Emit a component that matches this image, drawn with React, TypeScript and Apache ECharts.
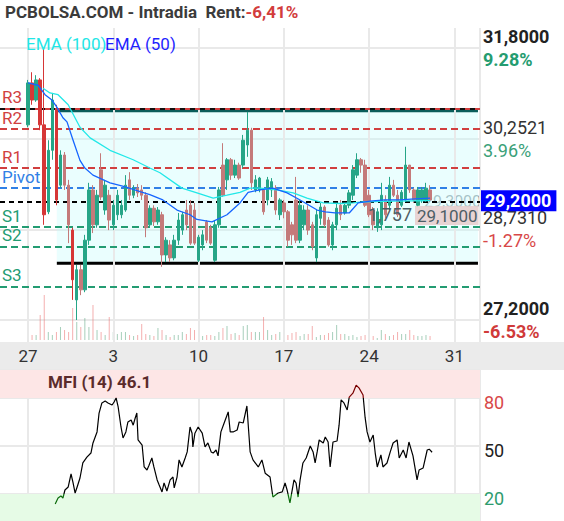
import React, { useEffect, useRef } from 'react';
import * as echarts from 'echarts';

const titleMain = 'PCBOLSA.COM - Intradia  Rent:';
const titleRent = '-6,41%';
const dayLabels = ['27', '3', '10', '17', '24', '31'];
const priceTickLabels = ['27,2000', '28,7310', '30,2521', '31,8000'];
const pctTickLabels = ['-6.53%', '-1.27%', '3.96%', '9.28%'];
const lastPrice = 29.2;
const lastPriceLabel = '29,2000';
const refPriceLabel = '29,1000';
const otherPriceLabel = '29,3000';
const volumeLabel = '1,757';
const mfiTitle = 'MFI (14) 46.1';

const opens = [30.50,31.21,30.92,31.26,30.50,29.03,30.07,30.75,29.48,29.99, 29.48,28.72,27.54,28.05,27.71,28.55,29.40,28.81,29.74,29.06, 29.31,28.81,28.98,28.98,29.06,29.57,29.31,29.43,29.40,29.31, 28.81,29.09,28.86,28.98,28.30,28.47,28.25,28.55,28.72,29.06, 29.14,29.06,28.21,28.47,28.86,28.76,28.21,28.81,29.82,29.57, 29.91,29.65,29.82,29.82,30.16,30.41,29.40,29.40,29.40,29.23, 29.40,29.43,28.98,29.18,29.03,28.81,29.23,28.55,28.81,29.06, 28.81,28.25,28.92,29.11,28.89,28.47,28.81,29.14,29.01,29.14, 29.31,29.65,29.91,29.82,29.31,29.06,28.76,28.81,29.23,29.14, 29.48,29.31,29.14,29.23,29.82,29.40,29.14,29.23,29.23,29.40];
const closes = [31.21,30.92,31.26,30.50,28.98,30.07,30.92,29.23,29.99,29.48, 28.81,27.88,28.05,27.71,28.55,29.40,28.81,29.31,29.28,29.48, 28.89,29.14,29.31,29.14,29.48,29.31,29.43,29.35,29.31,28.76, 29.09,28.86,29.06,28.30,28.55,28.25,28.55,28.89,28.98,28.81, 28.50,28.50,28.60,28.64,28.55,28.50,28.81,29.40,29.31,29.91, 29.65,29.82,29.60,30.24,30.41,29.52,29.57,29.60,29.03,29.57, 29.54,29.06,29.23,29.03,28.55,28.64,28.55,29.14,29.06,28.72, 28.44,28.98,29.11,28.81,28.47,28.81,29.09,28.98,29.14,29.35, 29.74,29.91,29.82,29.14,28.98,28.81,29.03,29.31,28.98,29.48, 29.31,28.98,29.36,29.82,29.40,29.23,29.40,29.40,29.43,29.23];
const lows = [30.46,30.84,30.89,30.41,28.81,28.99,29.91,29.14,29.43,29.40, 28.50,27.54,27.20,27.62,27.67,28.47,28.67,28.76,29.23,28.98, 28.72,28.72,28.89,28.92,29.03,29.23,29.26,29.28,29.23,28.60, 28.76,28.79,28.81,28.10,28.18,28.18,28.21,28.47,28.64,28.72, 28.47,28.47,28.18,28.38,28.50,28.47,28.18,28.76,29.28,29.40, 29.57,29.60,29.57,29.77,29.96,29.40,29.36,29.36,28.98,29.14, 29.28,28.98,28.89,28.92,28.44,28.47,28.50,28.50,28.72,28.64, 28.38,28.18,28.81,28.77,28.44,28.38,28.72,28.89,28.98,29.09, 29.23,29.60,29.69,29.11,28.94,28.72,28.69,28.72,28.92,29.06, 29.28,28.94,29.11,29.20,29.35,29.18,29.11,29.18,29.20,29.20];
const highs = [31.26,31.39,31.34,31.29,31.80,30.24,31.04,30.84,30.07,30.04, 29.57,28.76,28.13,28.13,28.64,29.52,29.48,29.40,30.02,29.57, 29.40,29.23,29.40,29.23,29.65,29.70,29.48,29.50,29.48,29.36, 29.14,29.14,29.11,29.03,28.60,28.55,28.64,29.01,29.03,29.23, 29.23,29.18,28.64,28.72,28.89,28.81,28.89,29.45,30.19,29.94, 29.94,29.91,29.86,30.33,30.72,30.45,29.65,29.62,29.43,29.62, 29.60,29.48,29.26,29.23,29.06,28.86,29.62,29.23,29.14,29.14, 28.86,29.06,29.18,29.14,28.94,28.86,29.18,29.23,29.18,29.40, 29.82,30.02,29.94,29.91,29.40,29.11,29.09,29.52,29.31,29.62, 29.57,29.40,29.40,30.13,29.82,29.43,29.45,29.45,29.52,29.48];
const volumes = [2,5,5,25,45,8,5,8,13,10, 8,32,18,13,22,13,35,10,8,5, 23,8,6,8,8,5,4,5,16,6, 5,4,12,10,5,3,5,5,8,6, 12,10,5,4,5,5,4,8,12,14, 6,7,5,14,15,8,8,8,23,10, 5,6,8,8,5,7,8,4,6,6, 14,3,5,5,7,8,15,6,6,4, 5,3,4,5,3,4,2,10,6,4, 5,8,6,6,10,5,4,4,5,4];
const firstSessionDownBars = [1, 3, 4, 7, 11];

const ema50X = [0, 2.5, 4.2, 5.9, 7.1, 8.6, 9.6, 11.1, 12.8, 14.0, 16.0, 20.2, 24.0, 27.6, 30.0, 33.2, 36.7, 39.9, 41.6, 45.3, 49.0, 52.2, 54.2, 57.1, 60.3, 63.8, 67.0, 71.2, 73.2, 75.6, 79.1, 81.3, 84.2, 87.9, 91.6, 95.3, 99.0];
const ema50Y = [31.21, 31.17, 31.01, 30.92, 30.80, 30.62, 30.55, 30.24, 29.90, 29.77, 29.65, 29.52, 29.45, 29.37, 29.32, 29.23, 29.06, 28.98, 28.90, 28.86, 28.98, 29.18, 29.36, 29.40, 29.43, 29.35, 29.23, 29.06, 29.03, 29.01, 29.01, 29.18, 29.21, 29.23, 29.23, 29.25, 29.26];
const ema100X = [3.7, 5.4, 7.4, 9.9, 12.8, 15.3, 20.2, 25.9, 30.0, 32.5, 37.9, 41.6, 45.6, 49.0, 52.2, 54.7, 57.1, 61.3, 65.3, 68.7, 72.7, 76.8, 80.0, 83.0, 90.0, 99.0];
const ema100Y = [31.12, 31.04, 31.01, 30.84, 30.46, 30.28, 30.07, 29.91, 29.77, 29.69, 29.43, 29.35, 29.26, 29.31, 29.36, 29.43, 29.43, 29.40, 29.35, 29.26, 29.18, 29.17, 29.18, 29.20, 29.21, 29.22];

const mfiX = [6.7,7.4,8.1,8.6,9.1,9.9,10.6,11.1,11.6,12.1,12.8,13.5,14.5,15.5,16.0,17.0,17.5,18.2,19.0,19.7,20.7,21.2,21.7,22.2,22.9,23.4,24.1,24.6,25.4,25.9,26.4,26.8,27.1,28.1,28.6,29.3,29.8,30.5,31.0,31.8,32.3,33.0,33.5,34.2,35.0,35.7,36.0,36.7,37.2,37.9,38.7,39.2,39.9,40.4,40.6,41.1,41.9,42.9,43.6,44.3,45.1,45.6,46.3,46.8,47.5,48.3,49.3,49.8,50.5,51.5,52.0,53.0,53.9,54.7,55.4,56.7,57.6,58.4,59.6,60.3,61.6,62.6,63.3,63.8,64.5,65.5,66.0,66.5,67.0,67.7,68.5,69.5,70.2,70.7,71.2,71.7,72.7,73.2,73.9,74.4,75.1,76.1,76.6,77.1,77.8,78.6,79.1,80.0,80.8,81.5,82.5,83.0,83.5,84.2,85.0,85.5,86.0,86.9,87.4,88.4,89.2,89.9,90.9,91.4,92.4,93.1,93.8,94.8,95.8,96.3,97.3,98.3,98.8,99.5];
const mfiY = [13.8,17.5,18.8,17.5,22.5,24.4,32.5,26.9,20.6,24.4,30,39.4,43,45.6,51.9,58.8,70.6,76.9,78.1,76.9,75.6,77.5,80,74.4,61.9,55,58.8,65,66.3,63,67.5,70.6,53.8,50.6,36.9,35,38,42.5,36.9,28.8,25.6,21.3,26.9,21.9,28.8,30.6,23.8,30.6,41.3,36.9,42.5,46.3,61.9,58,49.4,58,61.9,58,49.4,51.9,46.3,45.6,47.5,43.8,58.8,64.4,71.3,58.8,58.8,60,65,64.4,75,46.3,41.3,36.9,41.3,33,30.6,18.1,20.6,21.3,26.9,22.5,14.4,28.8,26.9,18.1,28.8,39.4,42.5,50,46.3,39.4,46.3,53.8,51.9,55.6,52.5,36.9,52.5,53.1,63,78.8,76.9,72.5,80.6,83,88,86.3,81.9,68,58.8,52.5,56.9,45.6,36.9,44.4,36.9,39.4,46.3,51.9,53.8,42.5,47.5,42.5,52.5,43.8,28.8,35,36.3,47.5,48,46.1];

const levelNames = ['R3', 'R2', 'R1', 'Pivot', 'S1', 'S2', 'S3'];
const levelValues = [30.77, 30.43, 29.77, 29.43, 28.77, 28.44, 27.76];
const boxTop = 30.74;
const boxBottom = 28.16;
const boxStart = 7.1;
const boxEnd = 110.8;

const F = 'Roboto';

export default function App() {
  const ref = useRef<HTMLDivElement>(null);
  useEffect(() => {
    document.body.style.margin = '0';
    const chart = echarts.init(ref.current!, null, { renderer: 'svg' });
    const xMax = 111.3;
    const weekBars = 21;
    const split = { show: true, lineStyle: { color: '#e9e9e9', width: 2 } };

    const levelColor = (n: string) => (n.startsWith('R') ? '#d13f3f' : n === 'Pivot' ? '#3080e6' : '#239c72');
    const levelLines: any[] = [];
    levelNames.forEach((n, k) => {
      const c = levelColor(n);
      levelLines.push({
        name: n,
        yAxis: levelValues[k],
        lineStyle: { color: c, type: k === 0 ? 'solid' : [7, 4], width: 2 },
        label: { show: true, position: 'insideStartTop', formatter: '{b}', color: c, fontSize: 17, fontFamily: F, distance: [2, 3] },
      });
      if (k === 0) {
        levelLines.push({ yAxis: levelValues[k], lineStyle: { color: '#111', type: [5, 5], width: 2 }, label: { show: false } });
      }
    });
    levelLines.push({
      yAxis: lastPrice,
      lineStyle: { color: '#000', type: [5, 4], width: 2 },
      label: {
        show: true, position: 'end', formatter: lastPriceLabel, backgroundColor: '#0000ff', color: '#fff',
        fontSize: 18, fontWeight: 'bold', fontFamily: F, padding: [2, 5, 1, 4], distance: 1, offset: [0, -1],
      },
    });

    const candleData = opens.map((o, i) => {
      const item: any = { value: [i, o, closes[i], lows[i], highs[i]] };
      if (firstSessionDownBars.includes(i)) item.itemStyle = { color0: '#d63636', borderColor0: '#d63636' };
      return item;
    });
    const volData = volumes.map((v, i) => ({
      value: [i, v],
      itemStyle: { color: closes[i] >= opens[i] ? 'rgba(80,160,120,0.5)' : 'rgba(235,110,110,0.55)' },
    }));

    const strong = [true, false, false, true];
    const pctStyle = ['r', 'r', 'g', 'g'];

    const option: any = {
      animation: false,
      backgroundColor: '#fff',
      textStyle: { fontFamily: F },
      title: {
        text: `{a|${titleMain}}{b|${titleRent}}`,
        left: 5, top: 3, padding: 0,
        textStyle: {
          rich: {
            a: { fontSize: 17, fontWeight: 'bold', color: '#3b3b3b', fontFamily: F },
            b: { fontSize: 17, fontWeight: 'bold', color: '#d23c3c', fontFamily: F },
          },
        },
      },
      grid: [
        { left: 0, right: 84, top: 48, bottom: 201 },
        { left: 28, right: 84, top: 48, bottom: 201 },
        { left: 28, right: 84, top: 28, bottom: 179 },
        { left: 28, right: 84, top: 295, bottom: 181 },
        { left: 0, right: 84, top: 370, height: 172, outerBoundsMode: 'none', containLabel: false },
        { left: 28, right: 84, top: 370, height: 172, outerBoundsMode: 'none', containLabel: false },
      ],
      xAxis: [
        { gridIndex: 0, type: 'value', min: 0, max: 1, show: false },
        { gridIndex: 1, type: 'value', min: 0, max: xMax, show: false },
        {
          gridIndex: 2, type: 'value', min: 0, max: xMax, interval: weekBars, z: 5,
          axisLine: { show: false }, axisTick: { show: false }, splitLine: split,
          axisLabel: {
            showMaxLabel: false, color: '#333', fontSize: 17, fontFamily: F, margin: 5,
            formatter: (v: number) => (v % weekBars === 0 ? dayLabels[v / weekBars] ?? '' : ''),
          },
        },
        { gridIndex: 3, type: 'value', min: 0, max: xMax, show: false },
        { gridIndex: 4, type: 'value', min: 0, max: 1, show: false },
        {
          gridIndex: 5, type: 'value', min: 0, max: xMax, interval: weekBars,
          axisLine: { show: false }, axisTick: { show: false }, axisLabel: { show: false }, splitLine: split,
        },
      ],
      yAxis: [
        { gridIndex: 0, type: 'value', min: 27.2, max: 31.8, show: false },
        {
          gridIndex: 0, type: 'value', min: 0, max: 3, interval: 1, position: 'right',
          axisLine: { show: false }, axisTick: { show: false }, splitLine: split,
          axisLabel: {
            margin: 3,
            formatter: (v: number) => {
              const s = strong[v] ? 'b' : 'n';
              return `{p${s}|${priceTickLabels[v]}}\n{${pctStyle[v]}${s}|${pctTickLabels[v]}}`;
            },
            rich: {
              pb: { fontSize: 18, fontWeight: 'bold', color: '#222', lineHeight: 23, fontFamily: F },
              pn: { fontSize: 18, color: '#333', lineHeight: 23, fontFamily: F },
              gb: { fontSize: 18, fontWeight: 'bold', color: '#249c70', lineHeight: 23, fontFamily: F },
              gn: { fontSize: 18, color: '#3aa078', lineHeight: 23, fontFamily: F },
              rb: { fontSize: 18, fontWeight: 'bold', color: '#d03a3a', lineHeight: 23, fontFamily: F },
              rn: { fontSize: 18, color: '#d84848', lineHeight: 23, fontFamily: F },
            },
          },
        },
        { gridIndex: 1, type: 'value', min: 27.2, max: 31.8, show: false },
        { gridIndex: 2, type: 'value', min: 0, max: 1, show: false },
        { gridIndex: 3, type: 'value', min: 0, max: 45, show: false },
        {
          gridIndex: 4, type: 'value', min: -10, max: 97.5, interval: 30, position: 'right',
          axisLine: { show: false }, axisTick: { show: false }, splitLine: split,
          axisLabel: {
            showMaxLabel: false, margin: 4,
            formatter: (v: number) => (v === 80 ? '{r|80}' : v === 50 ? '{k|50}' : v === 20 ? '{g|20}' : ''),
            rich: {
              r: { fontSize: 18, color: '#d84848', fontFamily: F, padding: [9, 0, 0, 0] },
              k: { fontSize: 18, color: '#222', fontFamily: F, padding: [9, 0, 0, 0] },
              g: { fontSize: 18, color: '#2e9c6e', fontFamily: F, padding: [9, 0, 0, 0] },
            },
          },
        },
        { gridIndex: 5, type: 'value', min: -10, max: 97.5, show: false },
      ],
      visualMap: {
        type: 'piecewise', show: false, seriesIndex: 8, dimension: 1,
        pieces: [
          { lt: 20, color: '#0b6b0b' },
          { gte: 20, lte: 80, color: '#000' },
          { gt: 80, color: '#7a0000' },
        ],
      },
      series: [
        {
          type: 'line', xAxisIndex: 0, yAxisIndex: 0, data: [[0, lastPrice], [1, lastPrice]],
          symbol: 'none', lineStyle: { opacity: 0 }, silent: true, z: 3,
          markLine: { symbol: ['none', 'none'], silent: true, data: levelLines },
        },
        {
          type: 'line', xAxisIndex: 1, yAxisIndex: 2, data: [[boxStart, boxTop], [boxEnd, boxTop]],
          symbol: 'none', lineStyle: { color: '#0b5d5a', width: 3 }, silent: true, z: 1,
          markArea: {
            silent: true, itemStyle: { color: 'rgba(190,252,252,0.32)' },
            data: [[{ xAxis: boxStart, yAxis: boxTop }, { xAxis: boxEnd, yAxis: boxBottom }]],
          },
        },
        {
          type: 'line', xAxisIndex: 1, yAxisIndex: 2, data: [[boxStart, boxBottom], [boxEnd, boxBottom]],
          symbol: 'none', lineStyle: { color: '#000', width: 3 }, silent: true, z: 4,
        },
        {
          type: 'candlestick', xAxisIndex: 1, yAxisIndex: 2, data: candleData, barWidth: 3, z: 5,
          encode: { x: 0, y: [1, 2, 3, 4] },
          itemStyle: { color: '#26a587', color0: '#c47a7a', borderColor: '#26a587', borderColor0: '#c47a7a', borderWidth: 1 },
        },
        {
          name: 'EMA (100)', type: 'line', xAxisIndex: 1, yAxisIndex: 2, data: ema100X.map((x, i) => [x, ema100Y[i]]),
          showSymbol: false, symbol: 'none', lineStyle: { color: '#22e8e8', width: 1.3 }, z: 6,
        },
        {
          name: 'EMA (50)', type: 'line', xAxisIndex: 1, yAxisIndex: 2, data: ema50X.map((x, i) => [x, ema50Y[i]]),
          showSymbol: false, symbol: 'none', lineStyle: { color: '#1565ff', width: 1.3 }, z: 6,
        },
        { type: 'bar', xAxisIndex: 3, yAxisIndex: 4, data: volData, barWidth: 1, silent: true },
        {
          type: 'line', xAxisIndex: 4, yAxisIndex: 5, data: [[0, 50], [1, 50]], symbol: 'none',
          lineStyle: { opacity: 0 }, silent: true, z: 1,
          markArea: {
            silent: true,
            data: [
              [{ yAxis: 80, itemStyle: { color: '#fde6e6' } }, { yAxis: 97.5 }],
              [{ yAxis: -10, itemStyle: { color: '#e6fbe6' } }, { yAxis: 20 }],
            ],
          },
        },
        {
          name: 'MFI', type: 'line', xAxisIndex: 5, yAxisIndex: 6, data: mfiX.map((x, i) => [x, mfiY[i]]),
          showSymbol: false, symbol: 'none', lineStyle: { width: 1.2 }, z: 5,
        },
      ],
      graphic: [
        { type: 'rect', shape: { x: 0, y: 342, width: 564, height: 28 }, style: { fill: '#ebebeb' }, z: -10, silent: true },
        { type: 'text', x: 26, y: 35, style: { text: 'EMA (100)', fill: '#22e6e6', font: `17px ${F}` }, z: 10 },
        { type: 'text', x: 105, y: 35, style: { text: 'EMA (50)', fill: '#1f1fff', font: `17px ${F}` }, z: 10 },
        { type: 'text', x: 48, y: 373, style: { text: mfiTitle, fill: '#5b2b2b', font: `bold 17px ${F}` }, z: 10 },
        { type: 'text', x: 424, y: 193, style: { text: otherPriceLabel, fill: 'rgba(90,110,120,0.6)', font: `16px ${F}` }, z: 1 },
        { type: 'text', x: 368, y: 205, style: { text: volumeLabel, fill: '#4d5e66', font: `18px ${F}` }, z: 10 },
        {
          type: 'text', x: 415, y: 206,
          style: { text: refPriceLabel, fill: '#4d5e66', font: `17px ${F}`, backgroundColor: 'rgba(232,205,205,0.85)', padding: [1, 1, 1, 2] },
          z: 10,
        },
      ],
    };
    chart.setOption(option);
    return () => chart.dispose();
  }, []);
  return <div ref={ref} style={{ width: 564, height: 521 }} />;
}
